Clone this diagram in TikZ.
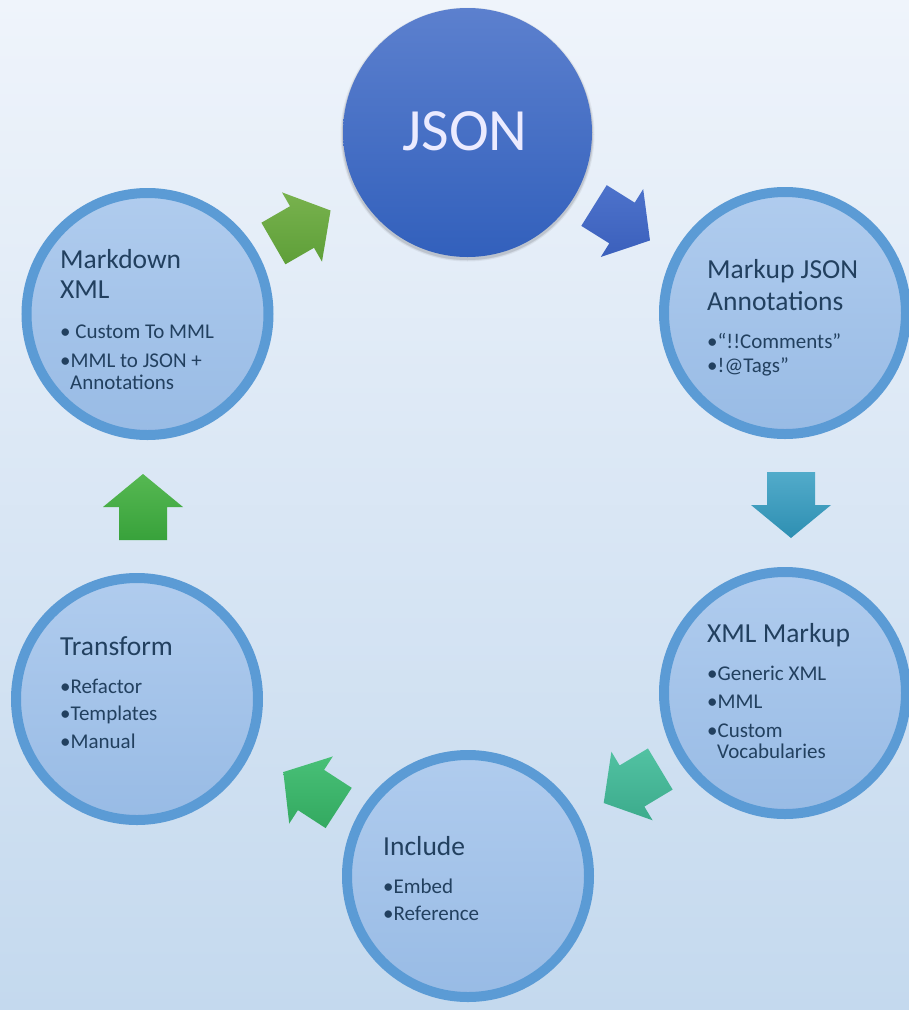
\documentclass[tikz,border=0pt]{standalone}
\usepackage{fontspec}
\setmainfont{Carlito}
\usetikzlibrary{shadows.blur}
\definecolor{bgtop}{HTML}{EFF4FB}
\definecolor{bgbot}{HTML}{C4D9EE}
\definecolor{ringc}{HTML}{5B9BD5}
\definecolor{filltop}{HTML}{B0CCEE}
\definecolor{fillbot}{HTML}{98BBE5}
\definecolor{jsontop}{HTML}{5C80CE}
\definecolor{jsonbot}{HTML}{3260BC}
\definecolor{txt}{HTML}{22405F}
\definecolor{aAtop}{HTML}{78B24E}\definecolor{aAbot}{HTML}{5E9F38}
\definecolor{aBtop}{HTML}{4D72CB}\definecolor{aBbot}{HTML}{3B60BC}
\definecolor{aCtop}{HTML}{52ABCA}\definecolor{aCbot}{HTML}{2E8FB2}
\definecolor{aDtop}{HTML}{52C2A2}\definecolor{aDbot}{HTML}{3CAB8C}
\definecolor{aEtop}{HTML}{48C077}\definecolor{aEbot}{HTML}{33A960}
\definecolor{aFtop}{HTML}{56B852}\definecolor{aFbot}{HTML}{38A23B}
\tikzset{
  ringcirc/.style={circle, draw=ringc, line width=10pt, top color=filltop, bottom color=fillbot, minimum size=242pt, inner sep=0pt},
  jsoncirc/.style={circle, top color=jsontop, bottom color=jsonbot, minimum size=249pt, inner sep=0pt},
  ttl/.style={anchor=base west, inner sep=0pt, text=txt, font=\fontsize{27.5}{30}\selectfont},
  itm/.style={anchor=base west, inner sep=0pt, text=txt, font=\fontsize{21}{23}\selectfont},
  blockarrow/.pic={\path[pic actions] (33,0) -- (0,40) -- (0,24) -- (-33,24) -- (-33,-24) -- (0,-24) -- (0,-40) -- cycle;},
  arrowsh/.style={blur shadow={shadow xshift=1.5pt, shadow yshift=-2pt, shadow blur radius=2.5pt, shadow opacity=35}}
}
\begin{document}
\begin{tikzpicture}[x=1pt,y=-1pt]
\useasboundingbox (0,0) rectangle (909,1010);
\fill[top color=bgtop, bottom color=bgbot] (0,0) rectangle (909,1010);

% soft shadow under the JSON circle
\foreach \r/\o in {127/0.05,126/0.06,125.5/0.07}
  \fill[black, opacity=\o] (467.5,134.5) circle (\r);

% circles
\node[jsoncirc] (json) at (467.5,132.5) {};
\node[anchor=base, inner sep=0pt, text=white!92!blue, font=\fontsize{60}{60}\selectfont] (jsont) at (465,150) {JSON};

\node[ringcirc] (md) at (147.5,314) {};
\node[ringcirc] (mj) at (785,313) {};
\node[ringcirc] (xm) at (785,693) {};
\node[ringcirc] (inc) at (468,876) {};
\node[ringcirc] (tr) at (137,699) {};

% texts: Markdown XML
\node[ttl] (md1) at (60,268) {Markdown};
\node[ttl] (md2) at (60,298) {XML};
\node[itm] (md3) at (60,338) {• Custom To MML};
\node[itm] (md4) at (60,367) {•MML to JSON +};
\node[itm] (md5) at (70,389) {Annotations};

% Markup JSON Annotations
\node[ttl] (mj1) at (707,278) {Markup JSON};
\node[ttl] (mj2) at (707,310) {Annotations};
\node[itm] (mj3) at (707,348) {•“!!Comments”};
\node[itm] (mj4) at (707,372) {•!@Tags”};

% XML Markup
\node[ttl] (xm1) at (707,642) {XML Markup};
\node[itm] (xm2) at (707,680) {•Generic XML};
\node[itm] (xm3) at (707,708) {•MML};
\node[itm] (xm4) at (707,737) {•Custom};
\node[itm] (xm5) at (717,758) {Vocabularies};

% Include
\node[ttl] (in1) at (383,855) {Include};
\node[itm] (in2) at (383,893) {•Embed};
\node[itm] (in3) at (383,920) {•Reference};

% Transform
\node[ttl] (tr1) at (60,655) {Transform};
\node[itm] (tr2) at (60,693) {•Refactor};
\node[itm] (tr3) at (60,720) {•Templates};
\node[itm] (tr4) at (60,748) {•Manual};

% block arrows
\pic[rotate=30, top color=aAtop, bottom color=aAbot, arrowsh] at (302,227) {blockarrow};
\pic[rotate=-32, top color=aBtop, bottom color=aBbot, arrowsh] at (622,223) {blockarrow};
\pic[rotate=-90, top color=aCtop, bottom color=aCbot, arrowsh] at (791,505) {blockarrow};
\pic[rotate=211, top color=aDtop, bottom color=aDbot, arrowsh] at (632,786) {blockarrow};
\pic[rotate=147, top color=aEtop, bottom color=aEbot, arrowsh] at (311,790) {blockarrow};
\pic[rotate=90, top color=aFtop, bottom color=aFbot, arrowsh] at (143,507) {blockarrow};
\end{tikzpicture}
\end{document}
